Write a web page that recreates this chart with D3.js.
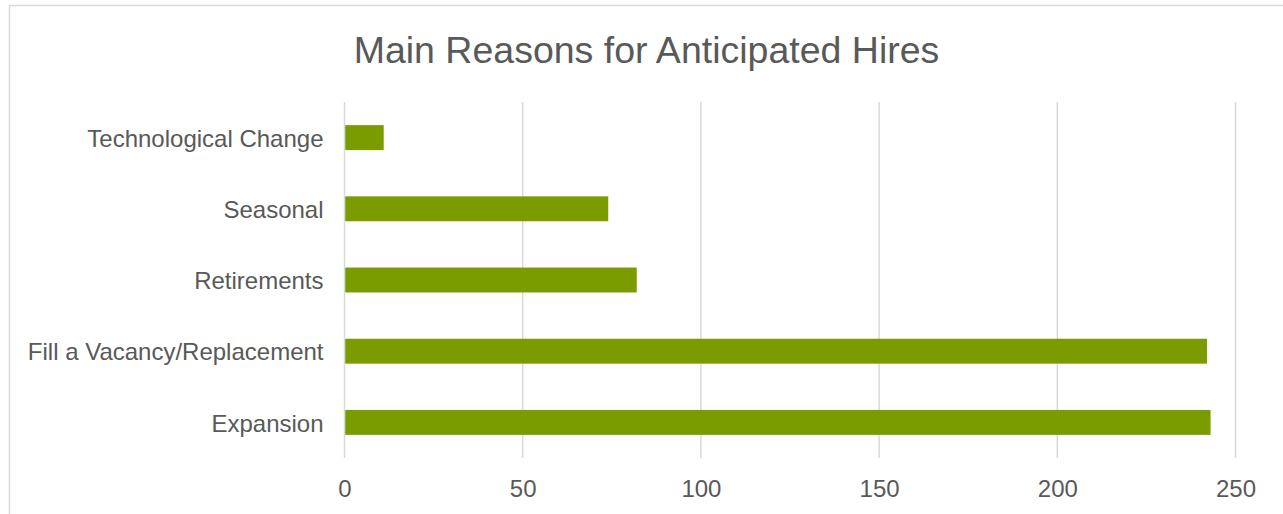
<!DOCTYPE html>
<html>
<head>
<meta charset="utf-8">
<script src="https://cdn.jsdelivr.net/npm/d3@7"></script>
<style>
  html, body { margin: 0; padding: 0; background: #ffffff; }
  svg { display: block; }
</style>
</head>
<body>
<script>
const categories = ["Technological Change", "Seasonal", "Retirements", "Fill a Vacancy/Replacement", "Expansion"];
const values = [11, 74, 82, 242, 243];
const xTicks = [0, 50, 100, 150, 200, 250];
const title = "Main Reasons for Anticipated Hires";

const W = 1283, H = 514;
const margin = { left: 344.5, right: W - 1235.5, top: 102, bottom: H - 458 };
const font = "'Liberation Sans', Arial, sans-serif";
const textColor = "#595959";
const gridColor = "#d9d9d9";
const barColor = "#7a9c00";

const svg = d3.select("body").append("svg").attr("width", W).attr("height", H);

// chart border
svg.append("rect")
  .attr("x", 9.5).attr("y", 5.5)
  .attr("width", 1400).attr("height", 700)
  .attr("fill", "none").attr("stroke", gridColor).attr("stroke-width", 1.5);

const x = d3.scaleLinear().domain([0, 250]).range([margin.left, W - margin.right]);
const y = d3.scaleBand().domain(categories)
  .range([margin.top, H - margin.bottom])
  .paddingInner(0.65).paddingOuter(0.325);

// gridlines
svg.append("g").selectAll("line").data(xTicks).join("line")
  .attr("x1", d => x(d)).attr("x2", d => x(d))
  .attr("y1", margin.top).attr("y2", H - margin.bottom)
  .attr("stroke", gridColor).attr("stroke-width", 1.5);

// bars
svg.append("g").selectAll("rect").data(categories).join("rect")
  .attr("x", x(0) + 0.75)
  .attr("y", d => y(d))
  .attr("width", (d, i) => x(values[i]) - x(0) - 0.75)
  .attr("height", y.bandwidth())
  .attr("fill", barColor);

// x axis labels
const xAxis = d3.axisBottom(x).tickValues(xTicks).tickSize(0).tickPadding(0);
const gx = svg.append("g").attr("transform", `translate(0, ${H - margin.bottom})`).call(xAxis);
gx.select(".domain").remove();
gx.selectAll("text")
  .attr("dy", null).attr("y", 39)
  .attr("font-family", font).attr("font-size", 24).attr("fill", textColor);

// y axis labels
const yAxis = d3.axisLeft(y).tickSize(0).tickPadding(21);
const gy = svg.append("g").attr("transform", `translate(${margin.left}, 0)`).call(yAxis);
gy.select(".domain").remove();
gy.selectAll("text")
  .attr("dy", "0.38em")
  .attr("font-family", font).attr("font-size", 24).attr("fill", textColor);

// title
svg.append("text")
  .attr("x", 646.5).attr("y", 62.5)
  .attr("text-anchor", "middle")
  .attr("font-family", font).attr("font-size", 37.5).attr("fill", textColor)
  .text(title);
</script>
</body>
</html>
